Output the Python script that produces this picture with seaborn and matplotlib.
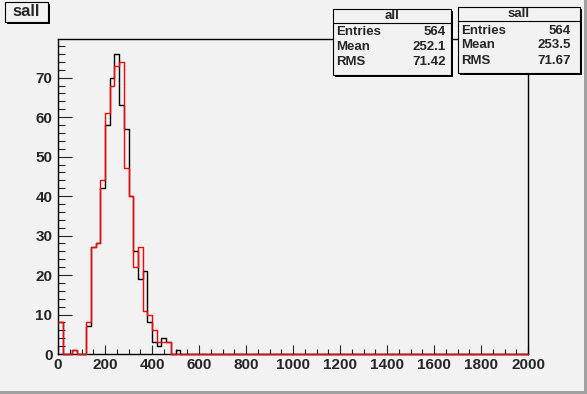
import numpy as np
import pandas as pd
import matplotlib
matplotlib.use("Agg")
from matplotlib import pyplot as plt
from matplotlib.patches import Rectangle
from matplotlib.lines import Line2D
import seaborn as sns

# histogram contents, 20-wide bins from 0 to 2000 (only the first 26 bins are filled)
bin_width = 20
x_range = (0, 2000)
sall_counts = [8, 0, 0, 1, 0, 0, 7, 27, 28, 42, 58, 70, 76, 63, 57, 40, 26, 19, 21, 8, 3, 2, 4, 3, 0, 1] + [0] * 74
all_counts = [8, 0, 0, 1, 0, 0, 8, 27, 28, 44, 61, 68, 73, 74, 47, 40, 22, 27, 11, 10, 6, 3, 3, 3, 0, 0] + [0] * 74

# stat boxes
stat_names = ["Entries", "Mean", "RMS"]
all_stats = ["564", "252.1", "71.42"]
sall_stats = ["564", "253.5", "71.67"]

x_ticks = list(range(0, 2001, 200))
y_ticks = list(range(0, 71, 10))

W, H = 587, 394
bg = "#f2f2f2"

edges = np.arange(x_range[0], x_range[1] + bin_width, bin_width)
centers = edges[:-1] + bin_width / 2
df = pd.DataFrame({"x": np.concatenate([centers, centers]),
                   "n": sall_counts + all_counts,
                   "h": ["sall"] * len(centers) + ["all"] * len(centers)})

sns.set_style("ticks")
plt.rcParams["font.family"] = ["Liberation Sans", "DejaVu Sans"]
plt.rcParams["font.weight"] = "bold"

fig = plt.figure(figsize=(W / 100, H / 100), dpi=100, facecolor=bg)
ax = fig.add_axes([58 / W, 1 - 354 / H, (528 - 58) / W, (354 - 39) / H])
ax.set_facecolor(bg)

for name, col, z in [("sall", "black", 3), ("all", "red", 4)]:
    sns.histplot(data=df[df.h == name], x="x", weights="n", binwidth=bin_width, binrange=x_range,
                 element="step", fill=False, color=col, linewidth=1.0, ax=ax, zorder=z, clip_on=False)

ax.set_xlim(*x_range)
ax.set_ylim(0, 79.8)
ax.set_xlabel("")
ax.set_ylabel("")
ax.set_xticks(x_ticks)
ax.set_xticks(np.arange(0, 2001, 50), minor=True)
ax.set_yticks(y_ticks)
ax.set_yticks(np.arange(0, 80, 2), minor=True)
ax.tick_params(axis="x", which="major", direction="in", length=6.5, width=0.8, labelsize=11, pad=3)
ax.tick_params(axis="x", which="minor", direction="in", length=3.6, width=0.8)
ax.tick_params(axis="y", which="major", direction="in", length=10, width=0.8, labelsize=11, pad=4)
ax.tick_params(axis="y", which="minor", direction="in", length=5, width=0.8)
for lab in ax.get_xticklabels() + ax.get_yticklabels():
    lab.set_fontweight("bold")
for s in ax.spines.values():
    s.set_linewidth(1.0)
    s.set_color("black")


def fx(px):
    return px / W


def fy(py):
    return 1 - py / H


def box(x0, y0, x1, y1, shadow=2):
    fig.add_artist(Rectangle((fx(x0 + shadow), fy(y1 + shadow)), fx(x1 - x0), (y1 - y0) / H,
                             facecolor="black", edgecolor="none", transform=fig.transFigure))
    fig.add_artist(Rectangle((fx(x0), fy(y1)), fx(x1 - x0), (y1 - y0) / H,
                             facecolor=bg, edgecolor="black", linewidth=0.8, transform=fig.transFigure))


def stat_box(x0, y0, x1, y1, ysep, title, values, rows_y, pad_r):
    box(x0, y0, x1, y1)
    fig.add_artist(Line2D([fx(x0), fx(x1)], [fy(ysep), fy(ysep)], color="black", linewidth=0.8,
                          transform=fig.transFigure))
    fig.text(fx((x0 + x1) / 2), fy((y0 + ysep) / 2), title, ha="center", va="center",
             fontsize=9.5, fontweight="bold")
    for nm, val, ry in zip(stat_names, values, rows_y):
        fig.text(fx(x0 + 3), fy(ry), nm, ha="left", va="center", fontsize=9.5, fontweight="bold")
        fig.text(fx(x1 - pad_r), fy(ry), val, ha="right", va="center", fontsize=9.5, fontweight="bold")


stat_box(333, 9, 451, 75, 23, "all", all_stats, [32, 47, 62], 5)
stat_box(458, 7, 580, 73, 21, "sall", sall_stats, [30.5, 45, 61], 9)

# title box
box(5, 2, 48, 22)
fig.text(fx(26.5), fy(12), "sall", ha="center", va="center", fontsize=12, fontweight="bold")

# canvas bevel
fig.add_artist(Rectangle((fx(584), 0), fx(3), 1, facecolor="#a0a0a0", edgecolor="none",
                         transform=fig.transFigure))
fig.add_artist(Rectangle((0, 0), 1, 3 / H, facecolor="#a0a0a0", edgecolor="none",
                         transform=fig.transFigure))

fig.savefig("out.png", dpi=100, facecolor=bg)
